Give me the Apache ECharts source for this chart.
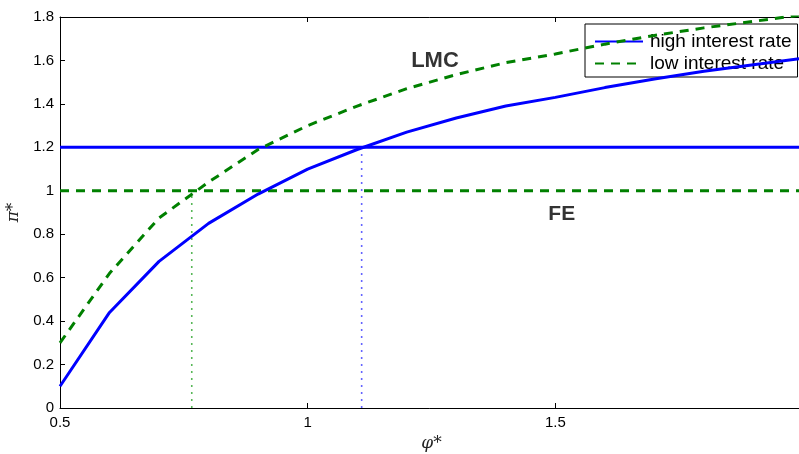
<!DOCTYPE html>
<html><head><meta charset="utf-8">
<script src="https://cdn.jsdelivr.net/npm/echarts@6/dist/echarts.min.js"></script>
<style>html,body{margin:0;padding:0;background:#fff}#c{width:799px;height:454px}</style>
</head><body><div id="c"></div>
<script>
const phiValues = [0.5,0.6,0.7,0.8,0.9,1.0,1.1,1.2,1.3,1.4,1.5,1.6,1.7,1.8,1.9,2.0];
const highRate = [0.10,0.44,0.675,0.85,0.985,1.10,1.19,1.27,1.335,1.39,1.43,1.475,1.515,1.55,1.58,1.61];
const lowRate  = [0.30,0.62,0.875,1.04,1.19,1.30,1.39,1.47,1.535,1.59,1.63,1.675,1.715,1.75,1.78,1.81];
const feHigh = 1.2;
const feLow = 1.0;
const crossHigh = 1.109;
const crossLow = 0.766;
const xRange = [0.5, 2.0];
const yRange = [0, 1.8];
const xTicks = ['0.5','1','1.5','2'];
const seriesNames = ['high interest rate','low interest rate'];
const notes = [{name:'LMC', x:1.257, y:1.60, size:22},{name:'FE', x:1.513, y:0.89, size:21}];

const FONT = '"Liberation Sans", Arial, Helvetica, sans-serif';
const BLUE = '#0000ff', GREEN = '#008000';
const chart = echarts.init(document.getElementById('c'), null, {renderer:'canvas'});
const pair = (xs, ys) => xs.map((x,i)=>[x, ys[i]]);
chart.setOption({
  animation:false,
  backgroundColor:'#fff',
  grid:{left:60, top:17, width:743, height:391, containLabel:false, outerBoundsMode:'none'},
  xAxis:[{
    type:'value', min:xRange[0], max:xRange[1], interval:0.5,
    name:'φ*', nameLocation:'middle', nameGap:25,
    nameTextStyle:{fontFamily:'"DejaVu Serif", serif', fontStyle:'italic', fontSize:17, color:'#222'},
    axisLine:{show:true, onZero:false, lineStyle:{color:'#000', width:1}},
    axisTick:{show:true, inside:true, length:5, lineStyle:{color:'#000'}},
    axisLabel:{fontFamily:FONT, fontSize:15, color:'#000', margin:7,
      formatter:v=>xTicks[Math.round((v-xRange[0])/0.5)]},
    splitLine:{show:false}
  },{
    type:'value', position:'top', min:xRange[0], max:xRange[1], interval:0.5,
    axisLine:{show:true, onZero:false, lineStyle:{color:'#000', width:1}},
    axisTick:{show:true, inside:true, length:5, lineStyle:{color:'#000'}},
    axisLabel:{show:false}, splitLine:{show:false}
  }],
  yAxis:[{
    type:'value', min:yRange[0], max:yRange[1], interval:0.2,
    name:'π*', nameLocation:'middle', nameGap:37, nameRotate:90,
    nameTextStyle:{fontFamily:'"DejaVu Serif", serif', fontStyle:'italic', fontSize:17, color:'#222'},
    axisLine:{show:true, onZero:false, lineStyle:{color:'#000', width:1}},
    axisTick:{show:true, inside:true, length:5, lineStyle:{color:'#000'}},
    axisLabel:{fontFamily:FONT, fontSize:15, color:'#000', margin:6,
      formatter:v=>String(Math.round(v*10)/10)},
    splitLine:{show:false}
  }],
  legend:{
    data:seriesNames, orient:'vertical', left:585, top:24,
    padding:[8,6,4,9], itemGap:3, itemWidth:48, itemHeight:14,
    backgroundColor:'#fff', borderColor:'#000', borderWidth:1, borderRadius:0,
    itemStyle:{opacity:0},
    textStyle:{fontFamily:FONT, fontSize:19, color:'#000', padding:[0,0,0,2]}
  },
  series:[
    {name:seriesNames[0], type:'line', data:pair(phiValues, highRate), symbol:'none', showSymbol:false,
     lineStyle:{color:BLUE, width:3}, itemStyle:{color:BLUE}, z:5},
    {name:seriesNames[1], type:'line', data:pair(phiValues, lowRate), symbol:'none', showSymbol:false,
     lineStyle:{color:GREEN, width:3, type:[9,7]}, itemStyle:{color:GREEN}, z:5},
    {name:'feHigh', type:'line', data:[[xRange[0],feHigh],[xRange[1],feHigh]], symbol:'none',
     lineStyle:{color:BLUE, width:3}, z:4},
    {name:'feLow', type:'line', data:[[xRange[0],feLow],[xRange[1],feLow]], symbol:'none',
     lineStyle:{color:GREEN, width:3, type:[9,7]}, z:4},
    {name:'vHigh', type:'line', data:[[crossHigh,0],[crossHigh,feHigh]], symbol:'none',
     lineStyle:{color:'#2222ff', width:1.6, type:[2,5], opacity:0.7}, z:3},
    {name:'vLow', type:'line', data:[[crossLow,0],[crossLow,feLow]], symbol:'none',
     lineStyle:{color:'#119911', width:1.6, type:[2,5], opacity:0.7}, z:3},
    {name:'notes', type:'scatter', symbolSize:0,
     data:notes.map(n=>({name:n.name, value:[n.x,n.y], label:{fontSize:n.size}})),
     label:{show:true, position:'inside', formatter:p=>p.name, fontFamily:FONT, fontWeight:'bold', color:'#000'},
     z:6}
  ]
});
</script></body></html>
